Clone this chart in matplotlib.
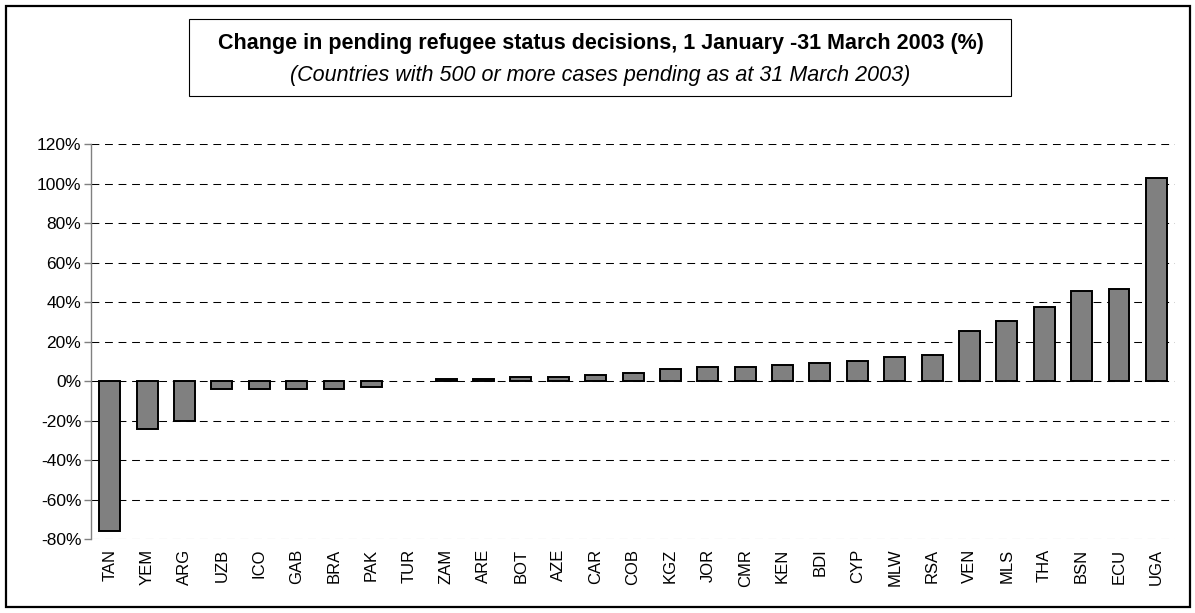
import matplotlib.pyplot as plt
import matplotlib.patches as mpatches
import numpy as np

plt.rcParams["font.family"] = ["Liberation Sans", "DejaVu Sans"]

# country codes and % change in pending decisions
countries = ["TAN", "YEM", "ARG", "UZB", "ICO", "GAB", "BRA", "PAK", "TUR", "ZAM",
             "ARE", "BOT", "AZE", "CAR", "COB", "KGZ", "JOR", "CMR", "KEN", "BDI",
             "CYP", "MLW", "RSA", "VEN", "MLS", "THA", "BSN", "ECU", "UGA"]
change = [-76, -24.5, -20, -4, -4, -4, -4, -3, 0, 1,
          1, 2, 2, 3, 4.2, 6.2, 7.2, 7.2, 8.2, 9.2,
          10.3, 12.1, 13.3, 25.2, 30.3, 37.3, 45.4, 46.5, 103]

y_ticks = [-80, -60, -40, -20, 0, 20, 40, 60, 80, 100, 120]
y_tick_labels = [f"{v}%" for v in y_ticks]

title = "Change in pending refugee status decisions, 1 January -31 March 2003 (%)"
subtitle = "(Countries with 500 or more cases pending as at 31 March 2003)"

fig = plt.figure(figsize=(11.95, 6.13), dpi=100)
ax = fig.add_axes([0.0762, 0.1207, 0.9071, 0.6443])

x = np.arange(len(countries))
# a zero bar shows nothing in the original, so no outline for it
edges = ["none" if v == 0 else "black" for v in change]
ax.bar(x, change, width=0.56, color="#808080", edgecolor=edges,
       linewidth=1.4, zorder=3)

ax.set_xlim(-0.5, len(countries) - 0.5)
ax.set_ylim(-80, 120)
ax.set_yticks(y_ticks)
ax.set_yticklabels(y_tick_labels, fontsize=12.5)
ax.set_xticks(x)
ax.set_xticklabels(countries, rotation=90, fontsize=12)
ax.tick_params(axis="x", length=0, pad=7)
ax.tick_params(axis="y", length=5, width=1, color="#808080", direction="out", pad=2)

# dashed gridlines at every tick
for v in y_ticks:
    ax.axhline(v, color="black", linewidth=0.75, dashes=(7.5, 5.5), zorder=1)

for side in ["top", "right", "bottom"]:
    ax.spines[side].set_visible(False)
ax.spines["left"].set_color("#808080")
ax.spines["left"].set_linewidth(1)

# outer frame round the whole chart
fig.patches.append(mpatches.Rectangle((6 / 1195, 6 / 613), 1184 / 1195, 601 / 613,
                                      transform=fig.transFigure, fill=False,
                                      edgecolor="black", linewidth=1.6))
# title box
fig.patches.append(mpatches.Rectangle((189 / 1195, 1 - 96 / 613), 822 / 1195, 77 / 613,
                                      transform=fig.transFigure, fill=False,
                                      edgecolor="black", linewidth=0.8))
fig.text(601 / 1195, 1 - 44 / 613, title, ha="center", va="center",
         fontsize=15.5, fontweight="bold")
fig.text(600 / 1195, 1 - 75 / 613, subtitle, ha="center", va="center",
         fontsize=15.5, style="italic")

fig.savefig("out.png", dpi=100)
